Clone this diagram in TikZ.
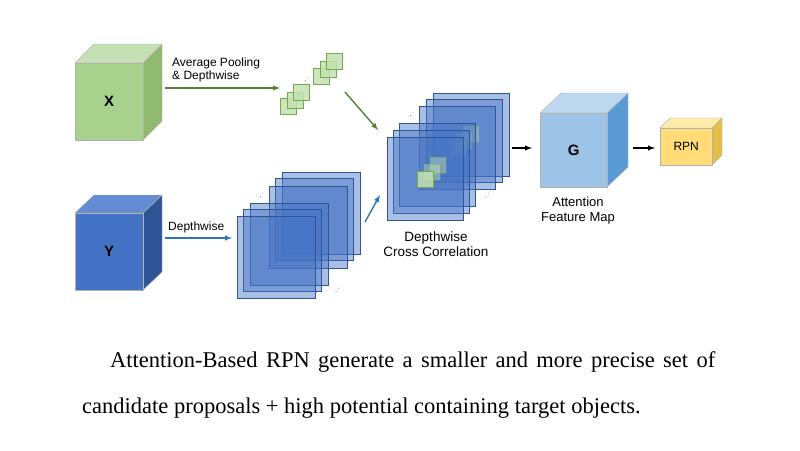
\documentclass[tikz,border=0pt]{standalone}
\usepackage{fontspec}
\setmainfont{Liberation Sans}
\newfontfamily\capfont{Liberation Serif}
\definecolor{xside}{RGB}{143,186,112}
\definecolor{xtop}{RGB}{197,224,180}
\definecolor{xfront}{RGB}{169,209,142}
\definecolor{yside}{RGB}{47,85,151}
\definecolor{ytop}{RGB}{100,140,210}
\definecolor{yfront}{RGB}{68,114,196}
\definecolor{gside}{RGB}{91,155,213}
\definecolor{gtop}{RGB}{189,215,238}
\definecolor{gfront}{RGB}{157,195,230}
\definecolor{rside}{RGB}{230,190,70}
\definecolor{rtop}{RGB}{255,236,170}
\definecolor{rfront}{RGB}{255,220,120}
\definecolor{gline}{RGB}{112,173,71}
\definecolor{garrc}{RGB}{84,130,53}
\definecolor{barrc}{RGB}{46,117,182}
\begin{document}
\begin{tikzpicture}[x=1pt,y=-1pt,
  lbl/.style={font=\fontsize{12}{13}\selectfont,align=center,inner sep=0},
  lay/.style={draw=yside,fill=yfront,fill opacity=0.45,line width=0.8},
  gsq/.style={draw=gline,fill=xtop,fill opacity=0.85,line width=0.8},
  garr/.style={draw=garrc,line width=1.4,-latex},
  barr/.style={draw=barrc,line width=1.4,-latex},
  karr/.style={draw=black,line width=1.4,-latex},
  face/.style={draw=gray!60},
  dots/.style={font=\bfseries\small},
  front/.style={face,minimum width=#1,anchor=north west,inner sep=0,font=\fontsize{15}{16}\selectfont\bfseries}]
\useasboundingbox (0,0) rectangle (800,450);
\fill[white] (0,0) rectangle (800,450);
% X cube
\fill[xside,face] (143,63)--(162,44)--(162,121)--(143,140)--cycle;
\fill[xtop,face] (75,63)--(94,44)--(162,44)--(143,63)--cycle;
\node[front=68,fill=xfront,minimum height=77] (X) at (75,63) {X};
% Y cube
\fill[yside,face] (143,213)--(162,195)--(162,272)--(143,290)--cycle;
\fill[ytop,face] (75,213)--(94,195)--(162,195)--(143,213)--cycle;
\node[front=68,fill=yfront,minimum height=77] (Y) at (75,213) {Y};
% arrows from cubes
\coordinate (xa) at (165,88); \coordinate (xb) at (280,88);
\draw[garr] (xa) -- (xb);
\node[lbl,align=left,anchor=south west] (lx) at (172,82) {Average Pooling\\\& Depthwise};
\coordinate (ya) at (165,238); \coordinate (yb) at (232,238);
\draw[barr] (ya) -- (yb);
\node[lbl,anchor=south west] (ly) at (168,233) {Depthwise};
% small green squares
\foreach \x/\y in {280/98,287/92,293/84,313/68,320/61,326/53}
  \draw[gsq] (\x,\y) rectangle ++(16,16);
\node[dots] (gd) at (307,80) {$\cdot^{\cdot}$};
% arrows to cross correlation
\coordinate (ga) at (345,92); \coordinate (gb) at (378,130);
\draw[garr] (ga) -- (gb);
\coordinate (ba) at (365,222); \coordinate (bb) at (380,195);
\draw[barr] (ba) -- (bb);
% Y stack (back to front)
\foreach \x/\y in {282/172,275/178,269/186,250/203,243/209,237/216}
  \draw[lay] (\x,\y) rectangle ++(78,82);
\node[dots] (yd1) at (262,196) {$\cdot^{\cdot}$};
\node[dots] (yd2) at (339,290) {$\cdot^{\cdot^{\cdot}}$};
% Cross correlation stack
\foreach \x/\y in {433/93,426/99,419/106}
  \draw[lay] (\x,\y) rectangle ++(76,83);
\foreach \x/\y in {463/126,456/133,450/140}
  \draw[gsq,opacity=0.35] (\x,\y) rectangle ++(16,16);
\foreach \x/\y in {399/123,393/130,387/137}
  \draw[lay] (\x,\y) rectangle ++(76,83);
\foreach \x/\y in {430/157,424/164}
  \draw[gsq,opacity=0.45] (\x,\y) rectangle ++(16,16);
\draw[gsq] (417,171) rectangle ++(16,16);
\node[dots] (cd1) at (412,115) {$\cdot^{\cdot}$};
\node[dots] (cd2) at (489,195) {$\cdot^{\cdot^{\cdot}}$};
\node[lbl,font=\fontsize{13.5}{15}\selectfont] (lc) at (436,244) {Depthwise\\Cross Correlation};
% G cube
\fill[gside,face] (607,113)--(628,93)--(628,167)--(607,187)--cycle;
\fill[gtop,face] (540,113)--(561,93)--(628,93)--(607,113)--cycle;
\node[front=67,fill=gfront,minimum height=74] (G) at (540,113) {G};
\node[lbl,font=\fontsize{13}{15}\selectfont] (lg) at (578,211) {Attention\\Feature Map};
\coordinate (ca) at (512,148); \coordinate (cb) at (532,148);
\draw[karr] (ca) -- (cb);
\coordinate (gra) at (633,148); \coordinate (grb) at (655,148);
\draw[karr] (gra) -- (grb);
% RPN cube
\fill[rside,face] (712,128)--(722,118)--(722,155)--(712,165)--cycle;
\fill[rtop,face] (660,128)--(670,118)--(722,118)--(712,128)--cycle;
\node[front=52,fill=rfront,minimum height=37,font=\fontsize{12}{13}\selectfont] (R) at (660,128) {RPN};
% caption
\node[anchor=west,inner sep=0,font=\capfont\fontsize{22.5}{26}\selectfont] (c1) at (110,362) {\makebox[605pt][s]{Attention-Based RPN generate a smaller and more precise set of}};
\node[anchor=west,inner sep=0,font=\capfont\fontsize{22.5}{26}\selectfont] (c2) at (82,408) {candidate proposals + high potential containing target objects.};
\end{tikzpicture}
\end{document}
